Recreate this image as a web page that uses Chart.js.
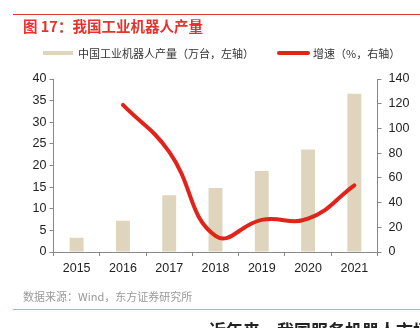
<!DOCTYPE html>
<html>
<head>
<meta charset="utf-8">
<script src="https://cdn.jsdelivr.net/npm/chart.js@4"></script>
<style>
html,body{margin:0;padding:0;background:#fff;width:420px;height:328px;overflow:hidden;position:relative;font-family:"Noto Sans CJK SC","Liberation Sans",sans-serif;}
#c{position:absolute;left:0;top:0;}
.abs{position:absolute;white-space:nowrap;}
#topline{left:13px;top:14px;width:407px;height:1px;background:#e8312c;}
#title{left:23px;top:17px;font-size:14.5px;line-height:18px;font-weight:bold;color:#e8312c;}
.sw1{left:43px;top:51px;width:30px;height:4px;background:#dfd5bd;}
.lg1{left:78px;top:46px;font-size:11px;line-height:14px;color:#333;}
.sw2{left:277px;top:51px;width:33px;height:4px;border-radius:2px;background:#e2231a;}
.lg2{left:313px;top:46px;font-size:11px;line-height:14px;color:#333;}
#src{left:23px;top:289px;font-size:11px;line-height:14px;color:#999;}
#botline{left:13px;top:309px;width:407px;height:1px;background:#f09a96;}
#bottom{left:209px;top:320px;font-size:17px;line-height:20px;font-weight:bold;color:#222;}
</style>
</head>
<body>
<canvas id="c" width="420" height="328"></canvas>
<div class="abs" id="topline"></div>
<div class="abs" id="title">图 17：我国工业机器人产量</div>
<div class="abs sw1"></div>
<div class="abs lg1">中国工业机器人产量（万台，左轴）</div>
<div class="abs sw2"></div>
<div class="abs lg2">增速（%，右轴）</div>
<div class="abs" id="src">数据来源：Wind，东方证券研究所</div>
<div class="abs" id="botline"></div>
<div class="abs" id="bottom">近年来，我国服务机器人市场快速增长</div>
<script>
const years = ["2015","2016","2017","2018","2019","2020","2021"];
const output = [3.3, 7.2, 13.1, 14.8, 18.7, 23.7, 36.6];
const growth = [null, 119, 81, 13, 26, 27, 54];
const outputLabel = "中国工业机器人产量（万台，左轴）";
const growthLabel = "增速（%，右轴）";

const tickFont = {family: "'Liberation Sans', Arial, sans-serif", size: 12.5};
const axisColor = "#888";

new Chart(document.getElementById('c'), {
  type: 'bar',
  data: {
    labels: years,
    datasets: [
      {
        type: 'line', label: growthLabel, data: growth, yAxisID: 'y1',
        borderColor: '#e2231a', borderWidth: 4, tension: 0.45,
        pointRadius: 0, fill: false, order: 0, spanGaps: false,
        borderCapStyle: 'round'
      },
      {
        type: 'bar', label: outputLabel, data: output, yAxisID: 'y',
        backgroundColor: '#dfd5bd', borderWidth: 0,
        barPercentage: 0.3, categoryPercentage: 1, order: 1
      }
    ]
  },
  options: {
    responsive: false,
    animation: false,
    devicePixelRatio: 1,
    layout: {padding: {top: 79, left: 0, right: 0, bottom: 52}},
    plugins: {legend: {display: false}, tooltip: {enabled: false}},
    scales: {
      x: {
        offset: true,
        grid: {display: true, offset: true, drawOnChartArea: false, drawTicks: true, tickLength: 4, color: axisColor},
        border: {display: true, color: axisColor},
        ticks: {font: tickFont, color: '#222', padding: 5, maxRotation: 0},
        afterFit: s => { s.height = 24; }
      },
      y: {
        position: 'left', min: 0, max: 40,
        grid: {drawOnChartArea: false, drawTicks: true, tickLength: 4, color: axisColor},
        border: {display: true, color: axisColor},
        ticks: {stepSize: 5, font: tickFont, color: '#222', padding: 3},
        afterFit: s => { s.width = 53.5; }
      },
      y1: {
        position: 'right', min: 0, max: 140,
        grid: {drawOnChartArea: false, drawTicks: true, tickLength: 4, color: axisColor},
        border: {display: true, color: axisColor},
        ticks: {stepSize: 20, font: tickFont, color: '#222', padding: 7},
        afterFit: s => { s.width = 42.5; }
      }
    }
  }
});
</script>
</body>
</html>
